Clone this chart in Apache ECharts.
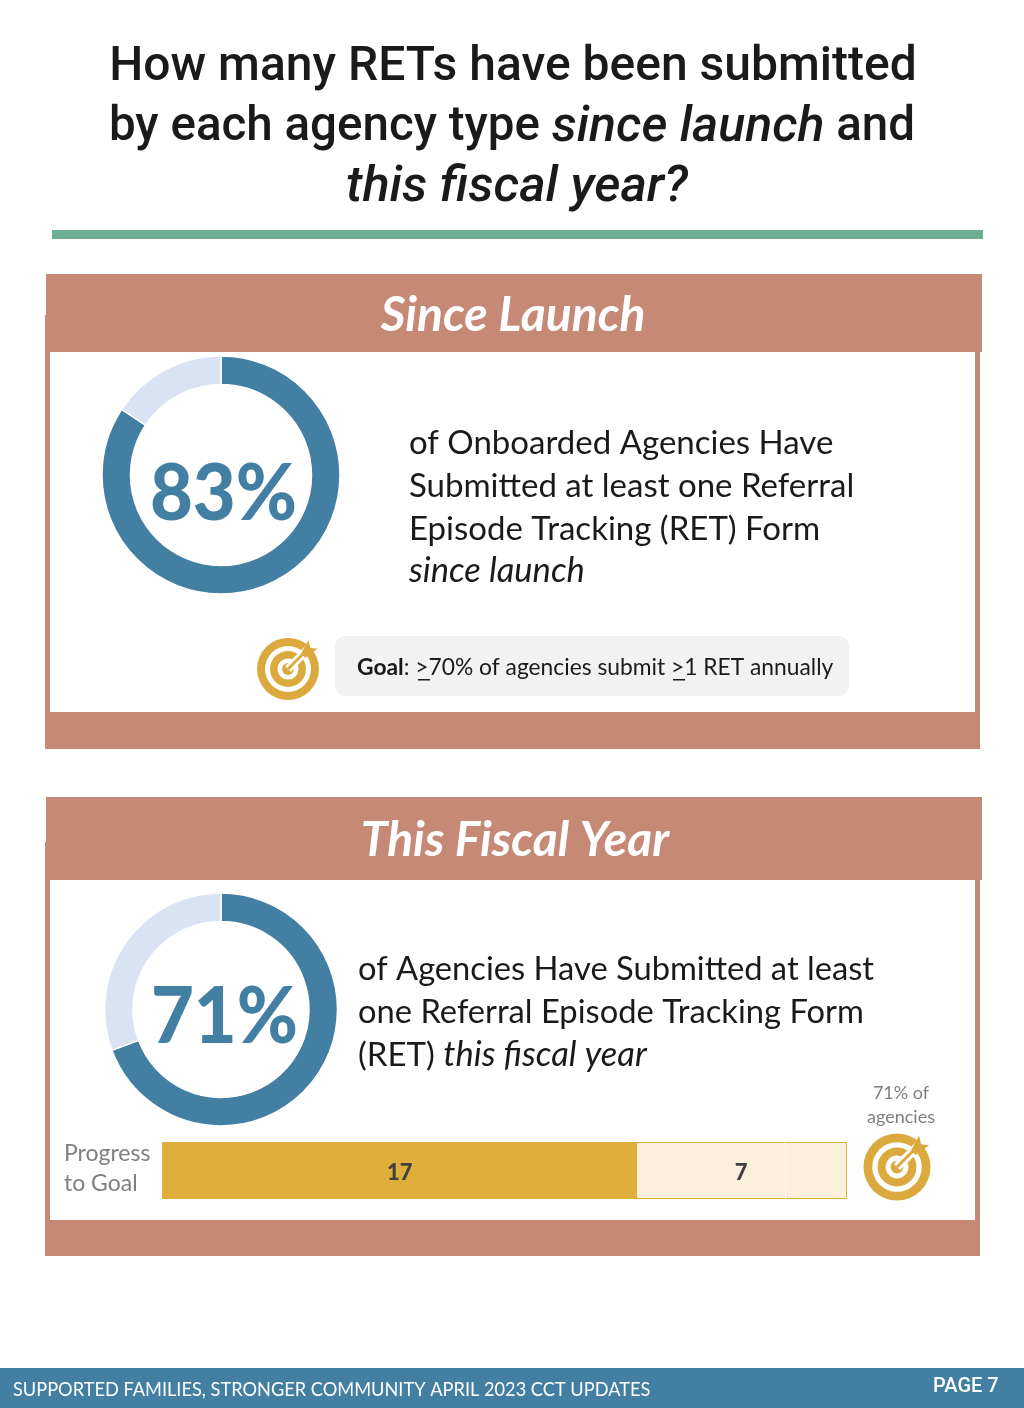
<!DOCTYPE html>
<html>
<head>
<meta charset="utf-8">
<style>html,body{margin:0;padding:0;background:#fff}#main{width:1024px;height:1408px}</style>
<script src="https://cdn.jsdelivr.net/npm/echarts@6/dist/echarts.min.js"></script>
</head>
<body>
<div id="main"></div>
<script>
var percentLabels = ['83%', '71%'];
var sinceLaunch = [84.3, 15.7];
var thisYear = [69.3, 30.7];
var barSubmitted = [17];
var barRemaining = [7];
var barTrack = [24.5];
var goalMark = 22.3;

var titleFont = 'Roboto';
var bodyFont = 'Lato';
var blue = '#427FA3', pale = '#DAE3F3', salmon = '#C68976', gold = '#E0AE3A', iconGold = '#DBA93E', barPale = '#FAF0DC';

var chart = echarts.init(document.getElementById('main'));

function rect(x, y, w, h, fill, r) {
    return {type: 'rect', shape: {x: x, y: y, width: w, height: h, r: r || 0}, style: {fill: fill}, silent: true};
}
function text(x, y, str, size, color, extra) {
    var style = {x: x, y: y, text: str, fontFamily: bodyFont, fontSize: size, fill: color, textAlign: 'left', textVerticalAlign: 'middle'};
    for (var k in (extra || {})) style[k] = extra[k];
    return {type: 'text', style: style, silent: true};
}
// same as text but squeezed horizontally around x
function squeezed(x, y, sx, str, size, color, extra) {
    var el = text(0, 0, str, size, color, extra);
    el.x = x;
    el.y = y;
    el.scaleX = sx;
    return el;
}
// target icon made of rings with an arrow stuck in it
function target(cx, cy, r) {
    function ring(f, c) { return {type: 'circle', shape: {cx: cx, cy: cy, r: r * f}, style: {fill: c}, silent: true}; }
    function pt(a, b) { return [cx + a * r, cy + b * r]; }
    return [
        ring(1, iconGold), ring(0.74, '#fff'), ring(0.58, iconGold), ring(0.34, '#fff'), ring(0.19, iconGold),
        {type: 'line', shape: {x1: cx, y1: cy, x2: cx + 0.7 * r, y2: cy - 0.7 * r}, style: {stroke: '#fff', lineWidth: r * 0.26}, silent: true},
        {type: 'line', shape: {x1: cx, y1: cy, x2: cx + 0.62 * r, y2: cy - 0.62 * r}, style: {stroke: iconGold, lineWidth: r * 0.09}, silent: true},
        {type: 'polygon', shape: {points: [pt(0.42, -0.5), pt(0.66, -0.93), pt(0.72, -0.68), pt(0.96, -0.65), pt(0.55, -0.36)]}, style: {fill: iconGold}, silent: true}
    ];
}

var ink = '#1a1a1a';
var elements = [
    text(513, 68, 'How many RETs have been submitted', 48, ink, {fontFamily: titleFont, fontWeight: 500, textAlign: 'center'}),
    text(512, 128, '{a|by each agency type }{b|since launch}{a| and}', 48, ink, {
        fontFamily: titleFont, textAlign: 'center',
        rich: {a: {fontFamily: titleFont, fontSize: 47.5, fontWeight: 500, fill: ink}, b: {fontFamily: titleFont, fontSize: 50, fontWeight: 500, fontStyle: 'italic', fill: ink}}
    }),
    text(517, 188, 'this fiscal year?', 50.5, ink, {fontFamily: titleFont, fontWeight: 500, fontStyle: 'italic', textAlign: 'center'}),
    rect(52, 230, 931, 9, '#6BAE91'),

    // panel 1
    rect(45, 315, 935, 434, salmon),
    rect(46, 274, 936, 78, salmon),
    rect(50, 352, 925, 360, '#fff'),
    text(513, 316, 'Since Launch', 48, '#fff', {fontWeight: 'bold', fontStyle: 'italic', textAlign: 'center'}),
    squeezed(223.5, 495, 0.95, percentLabels[0], 78, blue, {fontWeight: 900, textAlign: 'center'}),
    text(409, 443, 'of Onboarded Agencies Have', 33, ink),
    text(409, 486, 'Submitted at least one Referral', 33, ink),
    text(409, 529, 'Episode Tracking (RET) Form', 33, ink),
    text(409, 571, 'since launch', 34.5, ink, {fontStyle: 'italic'}),
    rect(335, 636, 514, 60, '#F2F2F2', 10),
    text(357, 668, '{b|Goal}{a|: >70% of agencies submit >1 RET annually}', 22.8, ink, {
        rich: {a: {fontFamily: bodyFont, fontSize: 22.8, fill: ink}, b: {fontFamily: bodyFont, fontSize: 22.8, fontWeight: 'bold', fill: ink}}
    }),
    rect(418, 679, 12, 1.5, ink),
    rect(673, 679, 12, 1.5, ink),

    // panel 2
    rect(45, 842, 935, 414, salmon),
    rect(46, 797, 936, 83, salmon),
    rect(50, 880, 925, 340, '#fff'),
    text(515, 841, 'This Fiscal Year', 48, '#fff', {fontWeight: 'bold', fontStyle: 'italic', textAlign: 'center'}),
    squeezed(224.5, 1018, 0.95, percentLabels[1], 78, blue, {fontWeight: 900, textAlign: 'center'}),
    text(358, 969, 'of Agencies Have Submitted at least', 32.7, ink),
    text(358, 1012, 'one Referral Episode Tracking Form', 32.7, ink),
    text(358, 1055, '{a|(RET) }{b|this fiscal year}', 33, ink, {
        rich: {a: {fontFamily: bodyFont, fontSize: 33, fill: ink}, b: {fontFamily: bodyFont, fontSize: 34.5, fontStyle: 'italic', fill: ink}}
    }),
    text(64, 1154, 'Progress', 23, '#7F7F7F'),
    text(64, 1184, 'to Goal', 23, '#7F7F7F'),
    text(901, 1093, '71% of', 18, '#7F7F7F', {textAlign: 'center'}),
    text(901, 1117, 'agencies', 18, '#7F7F7F', {textAlign: 'center'}),

    // footer
    rect(0, 1368, 1024, 40, blue),
    squeezed(13, 1390, 0.91, 'SUPPORTED FAMILIES, STRONGER COMMUNITY APRIL 2023 CCT UPDATES', 20, '#fff'),
    text(933, 1387, 'PAGE 7', 20, '#fff', {fontFamily: titleFont, fontWeight: 500})
].concat(target(288, 669, 31), target(897, 1167, 33.5));

function donut(values, cy, inner, outer) {
    return {
        type: 'pie', center: [221, cy], radius: [inner, outer], silent: true, clockwise: true, startAngle: 90,
        label: {show: false}, labelLine: {show: false},
        itemStyle: {borderColor: '#fff', borderWidth: 1.5},
        data: [
            {value: values[0], itemStyle: {color: blue}},
            {value: values[1], itemStyle: {color: pale}}
        ]
    };
}

var barLabel = {show: true, position: 'inside', fontFamily: bodyFont, fontSize: 22, fontWeight: 900, color: '#404040'};

chart.setOption({
    animation: false,
    graphic: {elements: elements},
    grid: {left: 162, top: 1142, width: 685, height: 57},
    xAxis: {type: 'value', min: 0, max: 24.5, show: false},
    yAxis: {type: 'category', data: ['Progress'], show: false},
    series: [
        donut(sinceLaunch, 475, 90.5, 119),
        donut(thisYear, 1009.5, 88, 116.5),
        {
            type: 'bar', stack: 'p', data: barSubmitted, barWidth: '100%', silent: true,
            showBackground: true, backgroundStyle: {color: barPale},
            itemStyle: {color: gold},
            label: Object.assign({offset: [0, 2]}, barLabel)
        },
        {
            type: 'bar', stack: 'p', data: barRemaining, barWidth: '100%', silent: true,
            itemStyle: {color: barPale},
            label: Object.assign({offset: [6, 2]}, barLabel)
        },
        {
            // outline of the whole progress bar
            type: 'bar', data: barTrack, barWidth: '100%', barGap: '-100%', silent: true, z: 3,
            itemStyle: {color: 'transparent', borderColor: gold, borderWidth: 1},
            markLine: {symbol: 'none', silent: true, label: {show: false},
                lineStyle: {color: '#FDF9F0', width: 1, type: 'solid'}, data: [{xAxis: goalMark}]}
        }
    ]
});
</script>
</body>
</html>
